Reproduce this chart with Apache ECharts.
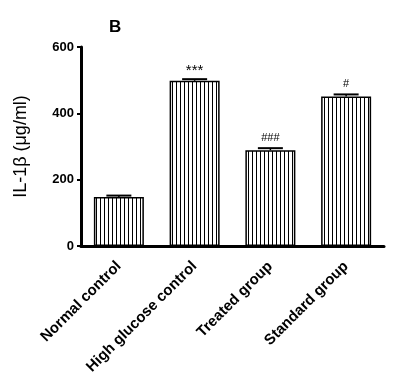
<!DOCTYPE html>
<html><head><meta charset="utf-8">
<script src="https://cdn.jsdelivr.net/npm/echarts@6/dist/echarts.min.js"></script>
<style>html,body{margin:0;padding:0;background:#fff}#c{width:393px;height:388px}</style>
</head><body><div id="c"></div>
<script>
var categories = ['Normal control', 'High glucose control', 'Treated group', 'Standard group'];
var means = [148, 498, 289, 451];
var errors = [4, 5, 6, 6];
var marks = ['', '***', '###', '#'];
var yTicks = [0, 200, 400, 600];

var pc = document.createElement('canvas');
pc.width = 4; pc.height = 4;
var px = pc.getContext('2d');
px.fillStyle = '#fff'; px.fillRect(0, 0, 4, 4);
px.fillStyle = '#000'; px.fillRect(0, 0, 1, 4);

var chart = echarts.init(document.getElementById('c'), null, {renderer: 'canvas'});
var FONT = 'Liberation Sans';
chart.setOption({
  animation: false,
  backgroundColor: '#fff',
  title: {text: 'B', left: 104, top: 14, textStyle: {fontFamily: FONT, fontWeight: 'bold', fontSize: 17, color: '#000'}},
  grid: {left: 81, right: 9, top: 47, bottom: 142},
  xAxis: {
    type: 'category', data: categories,
    axisLine: {lineStyle: {color: '#000', width: 3}},
    axisTick: {alignWithLabel: true, length: 6, lineStyle: {color: '#000', width: 2}},
    axisLabel: {rotate: 45, margin: 18, fontFamily: FONT, fontWeight: 'bold', fontSize: 15, color: '#000', interval: 0}
  },
  yAxis: {
    type: 'value', min: yTicks[0], max: yTicks[yTicks.length - 1], interval: 200,
    name: 'IL-1\u03b2 (\u03bcg/ml)', nameLocation: 'middle', nameGap: 51,
    nameTextStyle: {fontFamily: FONT, fontWeight: 'normal', fontSize: 18, color: '#000'},
    axisLine: {show: true, lineStyle: {color: '#000', width: 3}},
    axisTick: {show: true, length: 4, lineStyle: {color: '#000', width: 2}},
    axisLabel: {margin: 7, fontFamily: FONT, fontWeight: 'bold', fontSize: 13, color: '#000'},
    splitLine: {show: false}
  },
  series: [{
    type: 'bar', data: means, barWidth: 50,
    itemStyle: {color: {image: pc, repeat: 'repeat'}, borderColor: '#000', borderWidth: 1.5}
  }, {
    type: 'custom',
    data: means.map(function (m, i) { return [i, m, errors[i]]; }),
    renderItem: function (params, api) {
      var x = api.value(0), m = api.value(1), e = api.value(2);
      var base = api.coord([x, m]);
      var top = api.coord([x, m + e]);
      var hw = 12.5;
      var children = [
        {type: 'line', shape: {x1: base[0], y1: base[1], x2: top[0], y2: top[1]}, style: {stroke: '#000', lineWidth: 1.5}},
        {type: 'line', shape: {x1: top[0] - hw, y1: top[1], x2: top[0] + hw, y2: top[1]}, style: {stroke: '#000', lineWidth: 2}}
      ];
      var t = marks[params.dataIndex];
      if (t) {
        var star = t.charAt(0) === '*';
        children.push({type: 'text', x: top[0], y: top[1] - (star ? 1 : 5), style: {text: t, fill: '#000', fontFamily: FONT, fontSize: star ? 15 : 11, textAlign: 'center', textVerticalAlign: 'bottom'}});
      }
      return {type: 'group', children: children};
    },
    z: 5
  }]
});
</script></body></html>
